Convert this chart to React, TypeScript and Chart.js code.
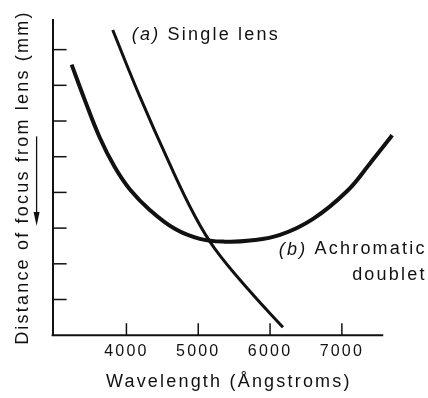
import React, { useEffect, useRef } from 'react';
import { Chart, registerables } from 'chart.js';

Chart.register(...registerables);

// ---- data ----
const xTicks = [4000, 5000, 6000, 7000];
const yTicks = [1, 2, 3, 4, 5, 6, 7, 8];
const xAxisStart = 2972;
const xAxisEnd = 7576;

const singleLensX = [3809, 4186, 4604, 4953, 5232, 5720, 6180];
const singleLensY = [8.55, 6.69, 4.79, 3.34, 2.42, 1.23, 0.22];

const doubletX = [3237, 3418, 3628, 3837, 4046, 4325, 4674, 5023, 5371, 5720, 6139, 6599, 7074, 7394, 7701];
const doubletY = [7.58, 6.6, 5.54, 4.71, 4.09, 3.51, 2.98, 2.7, 2.62, 2.65, 2.81, 3.26, 4.04, 4.82, 5.6];

const xTitle = 'Wavelength (Ångstroms)';
const yTitle = 'Distance of focus from lens (mm)';
const labelA = ['(a)', 'Single lens'];
const labelB = ['(b)', 'Achromatic', 'doublet'];

const FONT = '"Liberation Sans", Arial, Helvetica, sans-serif';
const SPACING = '2.2px';
const INK = '#111';

const spacingPlugin = {
  id: 'spacing',
  beforeInit(chart: any) { chart.ctx.letterSpacing = SPACING; },
  beforeLayout(chart: any) { chart.ctx.letterSpacing = SPACING; },
  beforeDraw(chart: any) { chart.ctx.letterSpacing = SPACING; },
};

const decorPlugin = {
  id: 'decor',
  afterDraw(chart: any) {
    const ctx = chart.ctx;
    const xs = chart.scales.x;
    const ys = chart.scales.y;
    const a = chart.chartArea;
    ctx.save();
    ctx.strokeStyle = INK;
    ctx.fillStyle = INK;
    // x axis line (ends before the right edge of the plot)
    ctx.lineWidth = 2;
    ctx.beginPath();
    ctx.moveTo(xs.getPixelForValue(xAxisStart) - 1, a.bottom);
    ctx.lineTo(xs.getPixelForValue(xAxisEnd), a.bottom);
    ctx.stroke();
    ctx.lineWidth = 1.5;
    // inward tick marks
    for (const v of xTicks) {
      const px = xs.getPixelForValue(v);
      ctx.beginPath();
      ctx.moveTo(px, a.bottom);
      ctx.lineTo(px, a.bottom - 12);
      ctx.stroke();
    }
    for (const v of yTicks) {
      const py = ys.getPixelForValue(v);
      ctx.beginPath();
      ctx.moveTo(a.left, py);
      ctx.lineTo(a.left + 14, py);
      ctx.stroke();
    }
    // arrow beside the y title
    const ax = a.left - 16;
    const ay0 = ys.getPixelForValue(5.57);
    const ay1 = ys.getPixelForValue(3.06);
    ctx.lineWidth = 1.3;
    ctx.beginPath();
    ctx.moveTo(ax, ay0);
    ctx.lineTo(ax, ay1 - 10);
    ctx.stroke();
    ctx.beginPath();
    ctx.moveTo(ax - 3, ay1 - 14);
    ctx.lineTo(ax + 3, ay1 - 14);
    ctx.lineTo(ax, ay1);
    ctx.closePath();
    ctx.fill();

    // annotations
    ctx.letterSpacing = SPACING;
    ctx.textBaseline = 'middle';
    ctx.textAlign = 'left';
    const x = xs.getPixelForValue(4075);
    const y = ys.getPixelForValue(8.42);
    ctx.font = `italic 18px ${FONT}`;
    ctx.fillText(labelA[0], x, y);
    const wa = ctx.measureText(labelA[0] + ' ').width;
    ctx.font = `18px ${FONT}`;
    ctx.fillText(labelA[1], x + wa, y);

    const xr = xs.getPixelForValue(8180);
    const y1 = ys.getPixelForValue(2.4);
    const y2 = ys.getPixelForValue(1.68);
    ctx.textAlign = 'right';
    ctx.font = `18px ${FONT}`;
    ctx.fillText(labelB[1], xr, y1);
    const wb = ctx.measureText(' ' + labelB[1]).width;
    ctx.font = `italic 18px ${FONT}`;
    ctx.fillText(labelB[0], xr - wb, y1);
    ctx.font = `18px ${FONT}`;
    ctx.fillText(labelB[2], xr, y2);
    ctx.restore();
  },
};

export default function App() {
  const ref = useRef<HTMLCanvasElement | null>(null);
  useEffect(() => {
    if (!ref.current) return;
    const chart = new Chart(ref.current, {
      type: 'line',
      data: {
        datasets: [
          {
            label: 'Single lens',
            data: singleLensX.map((x, i) => ({ x, y: singleLensY[i] })),
            borderColor: INK,
            borderWidth: 3,
            pointRadius: 0,
            tension: 0.4,
            clip: false,
          } as any,
          {
            label: 'Achromatic doublet',
            data: doubletX.map((x, i) => ({ x, y: doubletY[i] })),
            borderColor: INK,
            borderWidth: 4,
            pointRadius: 0,
            tension: 0.4,
            clip: false,
          } as any,
        ],
      },
      options: {
        responsive: false,
        animation: false,
        layout: { padding: { top: 20, right: 23, left: 0, bottom: 0 } },
        plugins: { legend: { display: false }, tooltip: { enabled: false } },
        scales: {
          x: {
            type: 'linear',
            min: xAxisStart,
            max: 7879,
            afterBuildTicks: (s: any) => { s.ticks = xTicks.map((v) => ({ value: v })); },
            ticks: {
              font: { family: FONT, size: 16 },
              color: INK,
              padding: 7,
              maxRotation: 0,
              autoSkip: false,
              callback: (v: any) => String(v),
            },
            grid: { display: false, drawTicks: false },
            border: { display: false },
            title: {
              display: true,
              text: xTitle,
              font: { family: FONT, size: 18 },
              color: INK,
              padding: { top: 3, bottom: 5 },
            },
          },
          y: {
            type: 'linear',
            min: 0,
            max: 8.83,
            afterBuildTicks: (s: any) => { s.ticks = yTicks.map((v) => ({ value: v })); },
            ticks: { display: false },
            grid: { display: false, drawTicks: false },
            border: { display: true, color: INK, width: 2 },
            title: {
              display: true,
              text: yTitle,
              font: { family: FONT, size: 18 },
              color: INK,
              padding: { top: 12, bottom: 19 },
            },
          },
        },
      } as any,
      plugins: [spacingPlugin, decorPlugin],
    });
    return () => chart.destroy();
  }, []);
  return (
    <div style={{ position: 'absolute', left: 0, top: 0, width: 428, height: 398, background: '#fff' }}>
      <canvas ref={ref} width={428} height={398} style={{ display: 'block' }} />
    </div>
  );
}
